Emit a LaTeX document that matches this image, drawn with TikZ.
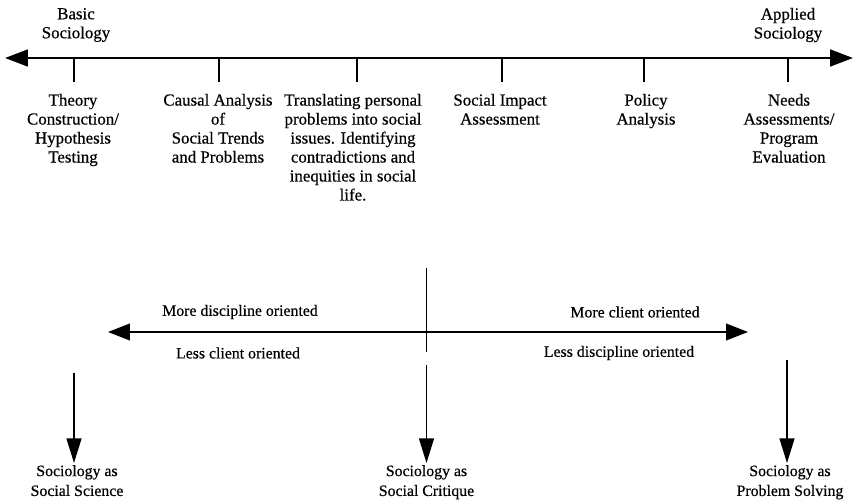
\documentclass[tikz,border=0pt]{standalone}
\usepackage{fontspec}
\setmainfont{Liberation Serif}[FakeBold=0.5]
\usetikzlibrary{arrows.meta,calc}

\begin{document}
\begin{tikzpicture}
      [axis/.style={
         line width = 1.4pt,
         {Triangle[length=13pt,width=9.5pt]}-{Triangle[length=13pt,width=9.5pt]}
      },
      tickline/.style={line width = 0.8pt, shorten >= 0.16cm},
      caption/.style= {
         align = center,
         inner sep = 2pt,
         font = \fontsize{9.6}{10.8}\selectfont
      },
      note/.style= {
         inner sep = 0pt,
         font = \fontsize{9}{11.3}\selectfont
      },
      pole/.style= {
         align = center,
         inner sep = 1pt,
         font = \fontsize{9}{11.3}\selectfont
      },
      spread/.style={line width = 1.1pt, -{Triangle[length=12.5pt,width=9.5pt]}},
      drop/.style={line width = 0.8pt, -{Triangle[length=14pt,width=8.5pt]}}]

      \useasboundingbox (0, 0) rectangle (17.14, -10.02);

      % continuum from basic to applied
      \coordinate (basic) at (0.1, -1.16);
      \coordinate (applied) at (17.06, -1.16);
      \draw[axis] (basic) -- (applied);
      \node[caption] (basiclbl) at (1.52, -0.5) {Basic\\Sociology};
      \node[caption] (appliedlbl) at (15.76, -0.5) {Applied\\Sociology};

      \coordinate (t1) at (1.48, -1.16);
      \coordinate (t2) at (4.38, -1.16);
      \coordinate (t3) at (7.14, -1.16);
      \coordinate (t4) at (10.04, -1.16);
      \coordinate (t5) at (12.88, -1.16);
      \coordinate (t6) at (15.76, -1.16);

      \node[caption, anchor = north] (theory) at (1.46, -1.8)
         {Theory\\Construction/\\Hypothesis\\Testing};
      \node[caption, anchor = north] (causal) at (4.36, -1.8)
         {Causal Analysis\\of\\Social Trends\\and Problems};
      \node[caption, anchor = north] (translating) at (7.06, -1.8)
         {Translating personal\\problems into social\\issues. Identifying\\contradictions and\\inequities in social\\life.};
      \node[caption, anchor = north] (impact) at (10.0, -1.8)
         {Social Impact\\Assessment};
      \node[caption, anchor = north] (policy) at (12.92, -1.8)
         {Policy\\Analysis};
      \node[caption, anchor = north] (needs) at (15.78, -1.8)
         {Needs\\Assessments/\\Program\\Evaluation};

      \draw[tickline] (t1) -- (t1 |- theory.north);
      \draw[tickline] (t2) -- (t2 |- causal.north);
      \draw[tickline] (t3) -- (t3 |- translating.north);
      \draw[tickline] (t4) -- (t4 |- impact.north);
      \draw[tickline] (t5) -- (t5 |- policy.north);
      \draw[tickline] (t6) -- (t6 |- needs.north);

      % orientation cross
      \coordinate (cross) at (8.53, -6.64);
      \coordinate (ctop) at (8.53, -5.36);
      \coordinate (cbot) at (8.53, -7.04);
      \coordinate (discipline) at (2.16, -6.64);
      \coordinate (client) at (14.96, -6.64);
      \draw[line width = 0.6pt] (ctop) -- (cbot);
      \draw[spread] (cross) -- (discipline);
      \draw[spread] (cross) -- (client);

      \node[note] (moredisc) at (4.8, -6.24) {More discipline oriented};
      \node[note] (lessclient) at (4.76, -7.06) {Less client oriented};
      \node[note] (moreclient) at (12.7, -6.24) {More client oriented};
      \node[note] (lessdisc) at (12.38, -7.06) {Less discipline oriented};

      % three kinds of sociology
      \coordinate (s1) at (1.48, -7.46);
      \coordinate (s2) at (8.53, -7.3);
      \coordinate (s3) at (15.74, -7.2);

      \node[pole, anchor = north] (science) at (1.54, -9.26)
         {Sociology as\\Social Science};
      \node[pole, anchor = north] (critique) at (8.53, -9.26)
         {Sociology as\\Social Critique};
      \node[pole, anchor = north] (solving) at (15.8, -9.26)
         {Sociology as\\Problem Solving};

      \draw[drop] (s1) -- (s1 |- science.north);
      \draw[drop] (s2) -- (s2 |- critique.north);
      \draw[drop] (s3) -- (s3 |- solving.north);

   \end{tikzpicture}
\end{document}
